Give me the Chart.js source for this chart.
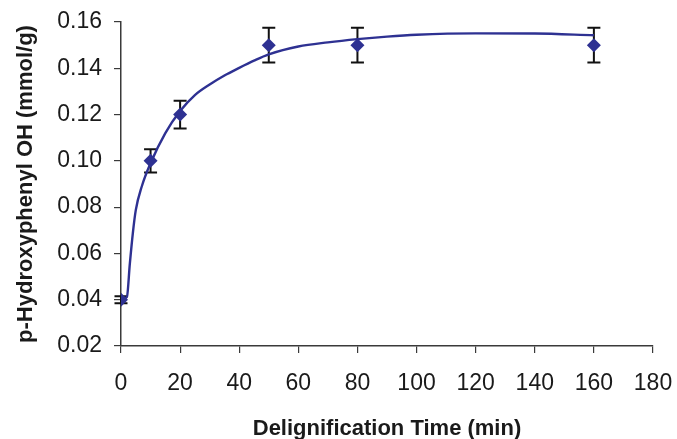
<!DOCTYPE html>
<html>
<head>
<meta charset="utf-8">
<script src="https://cdn.jsdelivr.net/npm/chart.js@4/dist/chart.umd.min.js"></script>
<style>
  html, body { margin: 0; padding: 0; background: #fff; }
  #wrap { width: 677px; height: 439px; position: relative; }
</style>
</head>
<body>
<div id="wrap"><canvas id="c"></canvas></div>
<script>
  // measured points (mean + error)
  const timeMin   = [0, 10, 20, 50, 80, 160];
  const ohValues  = [0.04, 0.10, 0.12, 0.15, 0.15, 0.15];
  const errValues = [0.0015, 0.005, 0.006, 0.0075, 0.0075, 0.0075];

  // fitted curve
  const fitTime   = [0, 1, 2, 3, 4, 5, 7, 10, 15, 20, 25, 30, 35, 40, 45, 50, 60, 70, 80, 90, 100, 120, 140, 160];
  const fitValues = [0.04, 0.0405, 0.0412, 0.0557, 0.0687, 0.0787, 0.0888, 0.0990, 0.1120, 0.1215, 0.1284, 0.1330,
                     0.1369, 0.1402, 0.1433, 0.1460, 0.1494, 0.1512, 0.1526, 0.1537, 0.1545, 0.1551, 0.1550, 0.1543];

  const xTicks = [0, 20, 40, 60, 80, 100, 120, 140, 160, 180];
  const yTicks = [0.02, 0.04, 0.06, 0.08, 0.10, 0.12, 0.14, 0.16];

  const blue = '#2E3192';
  const axisCol = '#3a3a3a';
  const txt = '#1a1a1a';

  const errorBars = {
    id: 'errorBars',
    beforeDatasetsDraw(chart) {
      const x = chart.scales.x, y = chart.scales.y, ctx = chart.ctx;
      ctx.save();
      ctx.strokeStyle = '#111';
      ctx.lineWidth = 2;
      timeMin.forEach((t, i) => {
        const px = x.getPixelForValue(t);
        const top = y.getPixelForValue(ohValues[i] + errValues[i]);
        const bot = y.getPixelForValue(ohValues[i] - errValues[i]);
        ctx.beginPath();
        ctx.moveTo(px, top); ctx.lineTo(px, bot);
        ctx.moveTo(px - 6.5, top); ctx.lineTo(px + 6.5, top);
        ctx.moveTo(px - 6.5, bot); ctx.lineTo(px + 6.5, bot);
        ctx.stroke();
      });
      ctx.restore();
    }
  };

  new Chart(document.getElementById('c'), {
    type: 'scatter',
    data: {
      datasets: [
        {
          label: 'fit',
          data: fitTime.map((t, i) => ({ x: t, y: fitValues[i] })),
          showLine: true,
          borderColor: blue,
          borderWidth: 2.4,
          pointRadius: 0,
          cubicInterpolationMode: 'monotone',
          order: 2
        },
        {
          label: 'p-Hydroxyphenyl OH',
          data: timeMin.map((t, i) => ({ x: t, y: ohValues[i] })),
          pointStyle: 'rectRot',
          pointRadius: 7,
          backgroundColor: blue,
          borderColor: blue,
          borderWidth: 0,
          order: 1
        }
      ]
    },
    options: {
      responsive: true,
      maintainAspectRatio: false,
      animation: false,
      layout: { padding: { top: 22, right: 24, left: 0, bottom: 0 } },
      plugins: { legend: { display: false }, tooltip: { enabled: false } },
      scales: {
        x: {
          type: 'linear', min: 0, max: 180,
          afterBuildTicks: s => { s.ticks = xTicks.map(v => ({ value: v })); },
          afterFit: s => { s.height = 93; s.paddingLeft = 0; s.paddingRight = 0; },
          grid: { drawOnChartArea: false, drawTicks: true, tickLength: 7, color: axisCol, lineWidth: 1.2 },
          border: { color: axisCol, width: 1.5 },
          ticks: { color: txt, font: { family: 'Liberation Sans', size: 23 }, padding: 17, maxRotation: 0 },
          title: { display: true, text: 'Delignification Time (min)', color: txt,
                   font: { family: 'Liberation Sans', size: 22, weight: 'bold' }, padding: { top: 0, bottom: -3 } }
        },
        y: {
          type: 'linear', min: 0.02, max: 0.16,
          afterBuildTicks: s => { s.ticks = yTicks.map(v => ({ value: v })); },
          afterFit: s => { s.width = 121; s.paddingTop = 0; s.paddingBottom = 0; },
          grid: { drawOnChartArea: false, drawTicks: true, tickLength: 7, color: axisCol, lineWidth: 1.2 },
          border: { color: axisCol, width: 1.5 },
          ticks: { color: txt, font: { family: 'Liberation Sans', size: 23 }, padding: 12,
                   callback: v => v.toFixed(2) },
          title: { display: true, text: 'p-Hydroxyphenyl OH (mmol/g)', color: txt,
                   font: { family: 'Liberation Sans', size: 22, weight: 'bold' }, padding: { bottom: 0, top: 13 } }
        }
      }
    },
    plugins: [errorBars]
  });
</script>
</body>
</html>
